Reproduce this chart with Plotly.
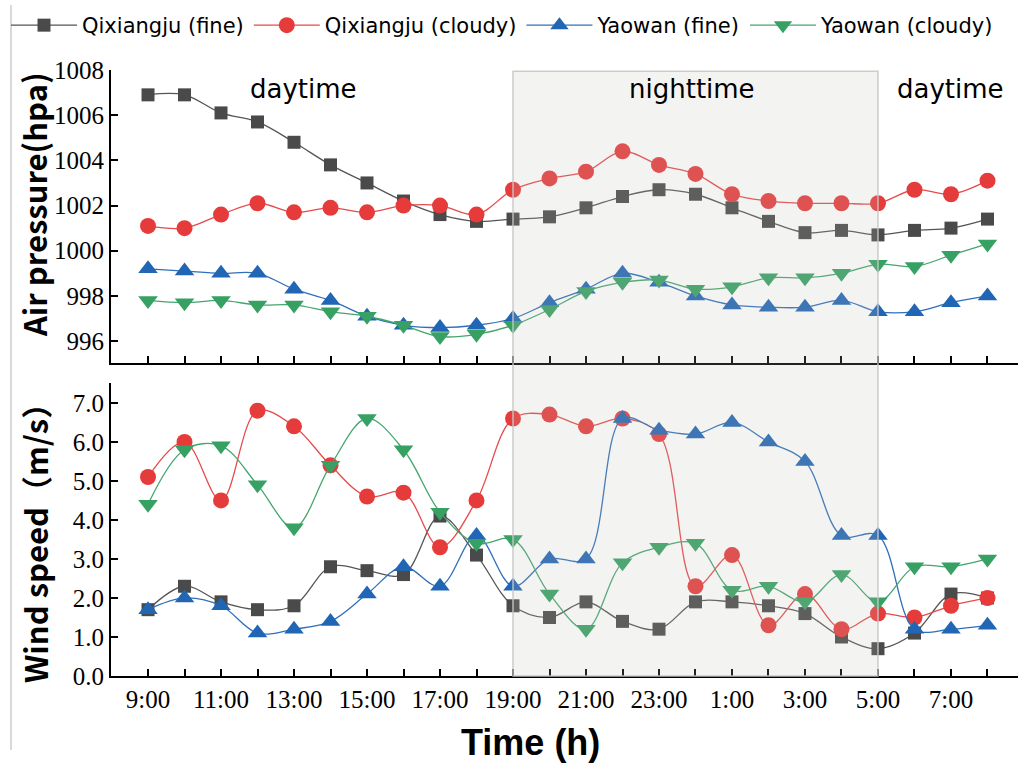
import plotly.graph_objects as go

# Hourly observations from 9:00 to 8:00 the following morning
hours = ["9:00", "10:00", "11:00", "12:00", "13:00", "14:00", "15:00", "16:00",
         "17:00", "18:00", "19:00", "20:00", "21:00", "22:00", "23:00", "0:00",
         "1:00", "2:00", "3:00", "4:00", "5:00", "6:00", "7:00", "8:00"]

# Air pressure (hPa)
p_qx_fine = [1006.9, 1006.9, 1006.1, 1005.7, 1004.8, 1003.8, 1003.0, 1002.2,
             1001.6, 1001.3, 1001.4, 1001.5, 1001.9, 1002.4, 1002.7, 1002.5,
             1001.9, 1001.3, 1000.8, 1000.9, 1000.7, 1000.9, 1001.0, 1001.4]
p_qx_cloudy = [1001.1, 1001.0, 1001.6, 1002.1, 1001.7, 1001.9, 1001.7, 1002.0,
               1002.0, 1001.6, 1002.7, 1003.2, 1003.5, 1004.4, 1003.8, 1003.4,
               1002.5, 1002.2, 1002.1, 1002.1, 1002.1, 1002.7, 1002.5, 1003.1]
p_yw_fine = [999.2, 999.1, 999.0, 999.0, 998.3, 997.8, 997.1, 996.7,
             996.6, 996.7, 997.0, 997.7, 998.3, 999.0, 998.6, 998.0,
             997.6, 997.5, 997.5, 997.8, 997.3, 997.3, 997.7, 998.0]
p_yw_cloudy = [997.8, 997.7, 997.8, 997.6, 997.6, 997.3, 997.1, 996.7,
               996.2, 996.3, 996.7, 997.4, 998.2, 998.6, 998.7, 998.3,
               998.4, 998.8, 998.8, 999.0, 999.4, 999.3, 999.8, 1000.3]

# Wind speed (m/s)
w_qx_fine = [1.7, 2.3, 1.9, 1.7, 1.8, 2.8, 2.7, 2.6, 4.1, 3.1, 1.8, 1.5,
             1.9, 1.4, 1.2, 1.9, 1.9, 1.8, 1.6, 1.0, 0.7, 1.1, 2.1, 2.0]
w_qx_cloudy = [5.1, 6.0, 4.5, 6.8, 6.4, 5.4, 4.6, 4.7, 3.3, 4.5, 6.6, 6.7,
               6.4, 6.6, 6.2, 2.3, 3.1, 1.3, 2.1, 1.2, 1.6, 1.5, 1.8, 2.0]
w_yw_fine = [1.7, 2.0, 1.8, 1.1, 1.2, 1.4, 2.1, 2.8, 2.3, 3.6, 2.3, 3.0,
             3.0, 6.6, 6.3, 6.2, 6.5, 6.0, 5.5, 3.6, 3.6, 1.2, 1.2, 1.3]
w_yw_cloudy = [4.4, 5.8, 5.9, 4.9, 3.8, 5.4, 6.6, 5.8, 4.2, 3.4, 3.5, 2.1,
               1.2, 2.9, 3.3, 3.4, 2.2, 2.3, 1.9, 2.6, 1.9, 2.8, 2.8, 3.0]

series_names = ["Qixiangju (fine)", "Qixiangju (cloudy)", "Yaowan (fine)", "Yaowan (cloudy)"]
pressure = [p_qx_fine, p_qx_cloudy, p_yw_fine, p_yw_cloudy]
wind = [w_qx_fine, w_qx_cloudy, w_yw_fine, w_yw_cloudy]

line_colors = ["#555555", "#e8494a", "#2f6fba", "#44a56e"]
marker_colors = ["#4a4a4a", "#e63b3b", "#2166b5", "#37a164"]
symbols = ["square", "circle", "triangle-up", "triangle-down"]
sizes = [13, 16, 17, 17]

xidx = list(range(len(hours)))
ticktext = [h if i % 2 == 0 else "" for i, h in enumerate(hours)]

fig = go.Figure()
for k in range(4):
    fig.add_trace(go.Scatter(
        x=xidx, y=pressure[k], name=series_names[k], mode="lines+markers",
        line=dict(color=line_colors[k], width=1.3, shape="spline", smoothing=1.0),
        marker=dict(symbol=symbols[k], size=sizes[k], color=marker_colors[k],
                    line=dict(width=0)),
        xaxis="x", yaxis="y", legendgroup=series_names[k]))
for k in range(4):
    fig.add_trace(go.Scatter(
        x=xidx, y=wind[k], name=series_names[k], mode="lines+markers",
        line=dict(color=line_colors[k], width=1.3, shape="spline", smoothing=1.0),
        marker=dict(symbol=symbols[k], size=sizes[k], color=marker_colors[k],
                    line=dict(width=0)),
        xaxis="x2", yaxis="y2", legendgroup=series_names[k], showlegend=False))

tick_font = dict(family="Liberation Serif", size=25, color="black")
xr = [-1.014, 23.836]
common_x = dict(range=xr, tickvals=xidx, ticks="inside", ticklen=7, tickwidth=2,
                tickcolor="black", showline=True, linewidth=2, linecolor="black",
                showgrid=False, zeroline=False)
common_y = dict(ticks="inside", ticklen=7, tickwidth=2, tickcolor="black",
                showline=True, linewidth=2, linecolor="black",
                showgrid=False, zeroline=False, tickfont=tick_font)

top_dom = [0.5165, 1.0]
bot_dom = [0.0, 0.4835]

fig.update_layout(
    width=1018, height=765,
    margin=dict(l=111, r=0, t=70, b=89, autoexpand=False),
    paper_bgcolor="white", plot_bgcolor="white",
    xaxis=dict(domain=[0, 1], anchor="y", ticktext=[""] * len(hours),
               showticklabels=False, **common_x),
    xaxis2=dict(domain=[0, 1], anchor="y2", ticktext=ticktext,
                tickfont=tick_font, **common_x),
    yaxis=dict(domain=top_dom, anchor="x", range=[995.03, 1008],
               tickvals=[996, 998, 1000, 1002, 1004, 1006, 1008], **common_y),
    yaxis2=dict(domain=bot_dom, anchor="x2", range=[0, 7.51],
                tickvals=[0, 1, 2, 3, 4, 5, 6, 7], tickformat=".1f", **common_y),
    legend=dict(orientation="h", xref="paper", yref="paper",
                x=(6 - 111) / 907, y=1 + (70 - 5) / 606,
                xanchor="left", yanchor="top",
                font=dict(family="DejaVu Sans", size=21, color="black"),
                itemwidth=66, bgcolor="rgba(0,0,0,0)"),
    showlegend=True,
)

# Night period (19:00-5:00) shaded across both panels
fig.add_shape(type="rect", xref="x2", yref="paper", x0=10, x1=20,
              y0=bot_dom[0], y1=top_dom[1] - 0.002, layer="above",
              fillcolor="rgba(187,187,185,0.18)",
              line=dict(color="rgba(200,200,200,0.9)", width=1.5))

# Thin border at the left edge of the figure
fig.add_shape(type="line", xref="paper", yref="paper",
              x0=-100 / 907, x1=-100 / 907, y0=(676 - 5) / 606, y1=(676 - 750) / 606,
              line=dict(color="#cccccc", width=1.5))

period_font = dict(family="DejaVu Sans", size=26, color="black")
for xpos, label in [(4.25, "daytime"), (14.9, "nighttime"), (22.0, "daytime")]:
    fig.add_annotation(x=xpos, y=(676 - 89) / 606, xref="x", yref="paper",
                       text=label, showarrow=False, font=period_font,
                       xanchor="center", yanchor="middle")

title_font = dict(family="Noto Sans CJK SC", size=31, color="black", weight="bold")
fig.add_annotation(x=(34 - 111) / 907, y=(676 - 205) / 606, xref="paper", yref="paper",
                   text="<b>Air pressure(hpa)</b>", textangle=-90, showarrow=False,
                   font=title_font, xanchor="center", yanchor="middle")
fig.add_annotation(x=(34 - 111) / 907, y=(676 - 536) / 606, xref="paper", yref="paper",
                   text="<b>Wind speed（m/s）</b>", textangle=-90, showarrow=False,
                   font=title_font, xanchor="center", yanchor="middle")
fig.add_annotation(x=(530 - 111) / 907, y=(676 - 742) / 606, xref="paper", yref="paper",
                   text="<b>Time (h)</b>", showarrow=False,
                   font=dict(family="Liberation Sans", size=36, color="black"),
                   xanchor="center", yanchor="middle")

fig.write_html("out.html")
